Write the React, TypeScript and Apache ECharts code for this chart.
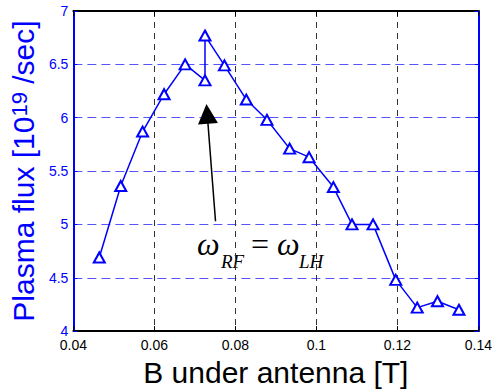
import React, { useEffect, useRef } from "react";
import * as echarts from "echarts";

const bField = [0.0464, 0.0517, 0.0571, 0.0624, 0.0676, 0.0725, 0.0725, 0.0773, 0.0827, 0.0878, 0.0934, 0.0982, 0.1042, 0.1088, 0.1140, 0.1196, 0.1249, 0.1299, 0.1352];
const plasmaFlux = [4.69, 5.36, 5.87, 6.22, 6.5, 6.35, 6.77, 6.49, 6.17, 5.98, 5.71, 5.63, 5.35, 5.0, 5.0, 4.48, 4.22, 4.28, 4.2];
const arrowTail = [0.0751, 5.03];
const arrowHead = [0.07305, 6.036];

const BLUE = "#0000ff";
const SANS = "Liberation Sans, Arial, sans-serif";
const SERIF = "Liberation Serif, Times New Roman, serif";

export default function App() {
  const ref = useRef<HTMLDivElement>(null);
  useEffect(() => {
    if (!ref.current) return;
    const chart = echarts.init(ref.current, undefined, { renderer: "svg" });
    const data = bField.map((b, i) => [b, plasmaFlux[i]]);
    chart.setOption({
      animation: false,
      backgroundColor: "#fff",
      grid: { left: 64, right: 15, top: 11, bottom: 52, containLabel: false },
      xAxis: [
        {
          type: "value",
          position: "bottom",
          min: 0.04,
          max: 0.14,
          interval: 0.02,
          axisLine: { show: true, onZero: false, lineStyle: { color: "#000", width: 2 } },
          axisTick: { show: true, inside: true, length: 5, lineStyle: { color: "#000", width: 1 } },
          axisLabel: {
            color: "#000",
            fontSize: 14,
            lineHeight: 12,
            fontFamily: SANS,
            margin: 8,
            formatter: (v: number) => String(+v.toFixed(2)),
          },
          splitLine: { show: true, lineStyle: { color: "#333", type: [6, 5], width: 1 } },
          name: "B under antenna [T]",
          nameLocation: "middle",
          nameGap: 14,
          nameTextStyle: { color: "#000", fontSize: 30, fontFamily: SANS },
        },
        {
          type: "value",
          position: "top",
          min: 0.04,
          max: 0.14,
          interval: 0.02,
          axisLine: { show: true, onZero: false, lineStyle: { color: "#000", width: 2 } },
          axisTick: { show: true, inside: true, length: 5, lineStyle: { color: "#000", width: 1 } },
          axisLabel: { show: false },
          splitLine: { show: false },
        },
      ],
      yAxis: [
        {
          type: "value",
          position: "left",
          min: 4,
          max: 7,
          interval: 0.5,
          axisLine: { show: true, onZero: false, lineStyle: { color: BLUE, width: 2 } },
          axisTick: { show: true, inside: true, length: 4, lineStyle: { color: BLUE, width: 1 } },
          axisLabel: { color: BLUE, fontSize: 14, lineHeight: 12, fontFamily: SANS, margin: 5 },
          splitLine: { show: true, lineStyle: { color: "#5555ff", type: [9, 5], width: 1 } },
          name: "{a|Plasma flux [10}{s|19}{a| /sec]}",
          nameLocation: "middle",
          nameGap: 26,
          nameTextStyle: {
            color: BLUE,
            fontSize: 30,
            fontFamily: SANS,
            rich: {
              a: { color: BLUE, fontSize: 30, fontFamily: SANS, lineHeight: 30 },
              s: { color: BLUE, fontSize: 22, fontFamily: SANS, verticalAlign: "top", lineHeight: 16 },
            },
          },
        },
        {
          type: "value",
          position: "right",
          min: 4,
          max: 7,
          interval: 0.5,
          axisLine: { show: true, onZero: false, lineStyle: { color: BLUE, width: 2 } },
          axisTick: { show: true, inside: true, length: 4, lineStyle: { color: BLUE, width: 1 } },
          axisLabel: { show: false },
          splitLine: { show: false },
        },
      ],
      series: [
        {
          type: "line",
          xAxisIndex: 0,
          yAxisIndex: 0,
          data,
          color: BLUE,
          lineStyle: { color: BLUE, width: 1.5 },
          symbol: "emptyTriangle",
          symbolSize: [11, 10],
          itemStyle: { color: BLUE, borderColor: BLUE, borderWidth: 1.5 },
          markLine: {
            silent: true,
            animation: false,
            label: { show: false },
            lineStyle: { color: "#000", width: 1.5, type: "solid" },
            itemStyle: { color: "#000" },
            data: [
              [
                { coord: arrowTail, symbol: "none" },
                { coord: arrowHead, symbol: "triangle", symbolSize: 20 },
              ],
            ],
          },
        },
      ],
      graphic: [
        { type: "text", left: 197, top: 228, style: { text: "ω", font: `italic 32px ${SERIF}`, fill: "#000" } },
        { type: "text", left: 221, top: 252, style: { text: "RF", font: `italic 19px ${SERIF}`, fill: "#000" } },
        { type: "text", left: 251, top: 228, style: { text: "=", font: `32px ${SERIF}`, fill: "#000" } },
        { type: "text", left: 277, top: 228, style: { text: "ω", font: `italic 32px ${SERIF}`, fill: "#000" } },
        { type: "text", left: 299, top: 252, style: { text: "LH", font: `italic 19px ${SERIF}`, fill: "#000" } },
      ],
    });
    return () => chart.dispose();
  }, []);
  return <div ref={ref} style={{ position: "fixed", left: 0, top: 0, width: 495, height: 392 }} />;
}
